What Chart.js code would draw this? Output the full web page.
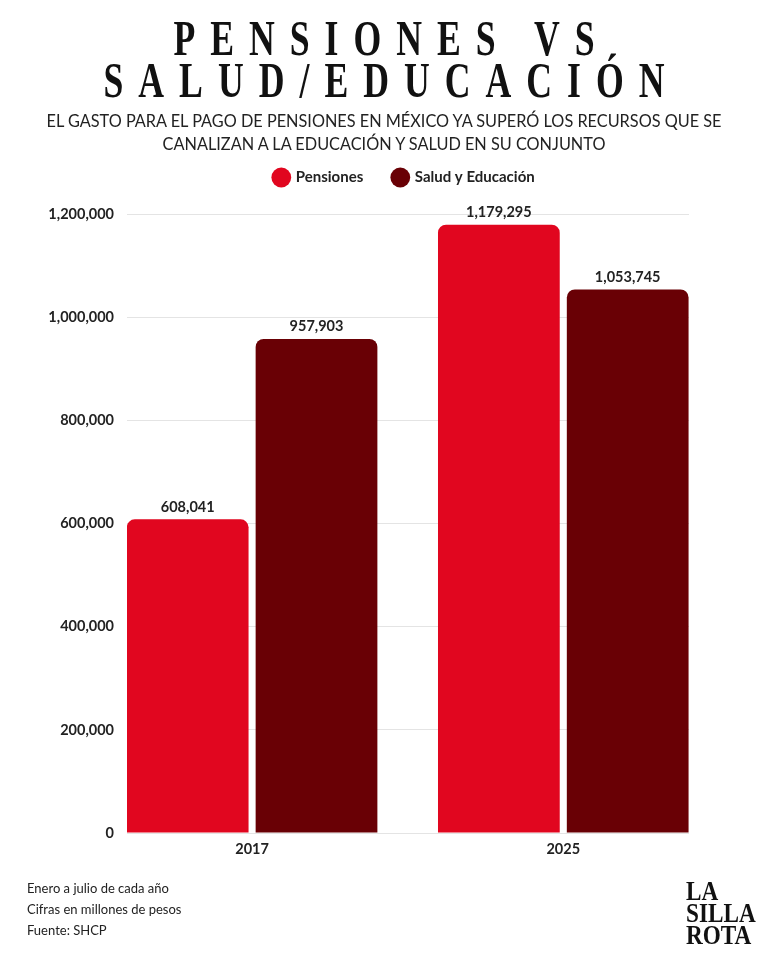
<!DOCTYPE html>
<html>
<head>
<meta charset="utf-8">
<script src="https://cdn.jsdelivr.net/npm/chart.js@4/dist/chart.umd.min.js"></script>
<style>
  html, body { margin: 0; padding: 0; background: #fff; }
  #page { position: relative; width: 768px; height: 960px; overflow: hidden; font-family: Lato, sans-serif; color: #222; }
  #page canvas { position: absolute; left: 0; top: 0; }
  .title {
    position: absolute; left: -200px; width: 1168px; text-align: center;
    font-family: "Liberation Serif", serif; font-weight: bold; font-size: 50px; line-height: 50px;
    letter-spacing: 21px; padding-left: 21px; box-sizing: border-box;
    transform: scaleX(0.714); transform-origin: 584px 0; color: #111; white-space: nowrap;
  }
  .subtitle {
    position: absolute; left: 0; top: 109px; width: 768px; text-align: center;
    font-size: 16.3px; line-height: 23px; color: #222; white-space: nowrap;
  }
  .notes { position: absolute; left: 27px; top: 878px; font-size: 13px; line-height: 21px; color: #222; }
  .logo {
    position: absolute; left: 686px; top: 880px; font-family: "Liberation Serif", serif; font-weight: bold;
    font-size: 27px; line-height: 22px; transform: scaleX(0.86); transform-origin: 0 0; color: #111;
  }
</style>
</head>
<body>
<div id="page">
  <canvas id="barras" width="768" height="960"></canvas>
  <div class="title" style="top:13px">PENSIONES VS</div>
  <div class="title" style="top:55px">SALUD/EDUCACIÓN</div>
  <div class="subtitle">EL GASTO PARA EL PAGO DE PENSIONES EN MÉXICO YA SUPERÓ LOS RECURSOS QUE SE<br>CANALIZAN A LA EDUCACIÓN Y SALUD EN SU CONJUNTO</div>
  <div class="notes">Enero a julio de cada año<br>Cifras en millones de pesos<br>Fuente: SHCP</div>
  <div class="logo">LA<br>SILLA<br>ROTA</div>
</div>
<script>
// datos (millones de pesos, enero a julio)
var years = ['2017', '2025'];
var pensiones = [608041, 1179295];
var saludEducacion = [957903, 1053745];
var yTicks = [0, 200000, 400000, 600000, 800000, 1000000, 1200000];

Chart.defaults.font.family = 'Lato, sans-serif';
Chart.defaults.color = '#222';

// years sit on a linear x axis (index 0, 1) so the bars can run up to the grid ends
function toPoints(values) {
    return values.map(function (v, i) { return { x: i, y: v }; });
}

// more room under the legend, and the legend is a bit right of centre
var legendTweaks = {
    id: 'legendTweaks',
    beforeInit: function (chart) {
        var fit = chart.legend.fit;
        chart.legend.fit = function () {
            fit.bind(chart.legend)();
            this.height = 74;
        };
    },
    afterLayout: function (chart) {
        chart.legend.left += 47;
        chart.legend.right += 47;
    }
};

// value labels on top of each bar
var barValues = {
    id: 'barValues',
    afterDatasetsDraw: function (chart) {
        var ctx = chart.ctx;
        ctx.save();
        ctx.font = 'bold 14.5px Lato, sans-serif';
        ctx.fillStyle = '#222';
        ctx.textAlign = 'center';
        ctx.textBaseline = 'bottom';
        chart.data.datasets.forEach(function (ds, i) {
            chart.getDatasetMeta(i).data.forEach(function (bar, j) {
                ctx.fillText(ds.data[j].y.toLocaleString('en-US'), bar.x, bar.y - 5);
            });
        });
        ctx.restore();
    }
};

var chart = document.getElementById('barras').getContext('2d');

var gastoChart = new Chart(chart, {
    type: 'bar',
    data: {
        datasets: [
            {
                label: 'Pensiones',
                data: toPoints(pensiones),
                backgroundColor: '#e1061f',
                borderRadius: 8,
                categoryPercentage: 0.828,
                barPercentage: 0.945
            },
            {
                label: 'Salud y Educación',
                data: toPoints(saludEducacion),
                backgroundColor: '#690005',
                borderRadius: 8,
                categoryPercentage: 0.828,
                barPercentage: 0.945
            }
        ]
    },
    options: {
        responsive: false,
        animation: false,
        layout: { padding: { top: 140, left: 26, right: 79, bottom: 97 } },
        plugins: {
            tooltip: { enabled: false },
            legend: {
                position: 'top',
                labels: {
                    usePointStyle: true,
                    pointStyle: 'circle',
                    boxWidth: 14,
                    boxHeight: 14,
                    padding: 30,
                    font: { size: 15, weight: 'bold' },
                    color: '#222'
                }
            }
        },
        scales: {
            x: {
                type: 'linear',
                min: -0.402,
                max: 1.404,
                offset: false,
                afterBuildTicks: function (scale) {
                    scale.ticks = years.map(function (y, i) { return { value: i }; });
                },
                grid: { display: false, drawTicks: false },
                border: { display: false },
                ticks: {
                    padding: 8,
                    font: { size: 14.5, weight: 'bold' },
                    color: '#222',
                    callback: function (v) { return years[v]; }
                },
                afterFit: function (scale) { scale.height = 30; }
            },
            y: {
                min: 0,
                max: 1200000,
                afterBuildTicks: function (scale) {
                    scale.ticks = yTicks.map(function (v) { return { value: v }; });
                },
                grid: { color: '#e4e4e4', lineWidth: 1, drawTicks: false },
                border: { display: false },
                ticks: {
                    padding: 13,
                    font: { size: 14.5, weight: 'bold' },
                    color: '#222',
                    callback: function (v) { return v.toLocaleString('en-US'); }
                },
                afterFit: function (scale) { scale.width = 101; }
            }
        }
    },
    plugins: [legendTweaks, barValues]
});
</script>
</body>
</html>
